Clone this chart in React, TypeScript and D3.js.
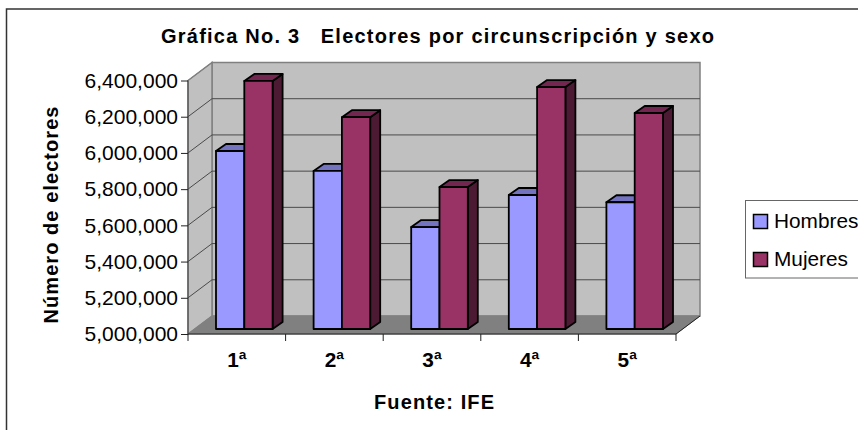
import * as d3 from 'd3';
import {useEffect,useRef} from "react";

const categories = ["1ª","2ª","3ª","4ª","5ª"];
const seriesNames = ["Hombres","Mujeres"];
const hombres = [5983000,5873000,5563000,5740000,5700000];
const mujeres = [6370000,6170000,5784000,6336000,6193000];
const yTicks = [5000000,5200000,5400000,5600000,5800000,6000000,6200000,6400000];

const colors = ["#9999ff","#993366"];
const topColors = ["#7373bf","#732650"];
const sideColors = ["#4d4d80","#4d1a33"];

const width = 858;
const height = 430;
const font = '"Liberation Sans", Arial, sans-serif';

// front plane of the 3d box, and how far back the walls go
const plot = {left: 188, right: 676, top: 80.5, bottom: 334};
const wall = {dx: 24, dy: -18};
const barDepth = {dx: 10, dy: -7};

export default function App(){
    const svgRef = useRef<SVGSVGElement>(null);

    useEffect(() => {
        const svg = d3.select(svgRef.current);
        svg.selectAll("*").remove();

        const x = d3.scaleBand().domain(categories).range([plot.left,plot.right]);
        const y = d3.scaleLinear().domain([5000000,6400000]).range([plot.bottom,plot.top]);
        const inner = d3.scaleBand().domain(seriesNames).range([28,84.6]);

        const poly = (pts: number[][]) => d3.line()(pts as [number,number][]) + "Z";

        // outer frame, open on the right and at the bottom as in the source
        svg.append("path")
            .attr("d", `M6.5,${height}V9H${width}`)
            .attr("fill","none").attr("stroke","#333").attr("stroke-width",1.5);

        // walls
        const {left:l,right:r,top:t,bottom:b} = plot;
        const {dx,dy} = wall;
        svg.append("path").attr("d",poly([[l+dx,t+dy],[r+dx,t+dy],[r+dx,b+dy],[l+dx,b+dy]]))
            .attr("fill","#c0c0c0").attr("stroke","#808080").attr("stroke-width",1.5);
        svg.append("path").attr("d",poly([[l,t],[l+dx,t+dy],[l+dx,b+dy],[l,b]]))
            .attr("fill","#c0c0c0").attr("stroke","#808080").attr("stroke-width",1.5);
        svg.append("path").attr("d",poly([[l,b],[l+dx,b+dy],[r+dx,b+dy],[r,b]]))
            .attr("fill","#808080").attr("stroke","#808080").attr("stroke-width",1);

        // gridlines run up the side wall then along the back
        yTicks.slice(1,-1).forEach(v => {
            svg.append("path")
                .attr("d",d3.line()([[l,y(v)],[l+dx,y(v)+dy],[r+dx,y(v)+dy]]))
                .attr("fill","none").attr("stroke","#4a4a4a").attr("stroke-width",1);
        });
        svg.append("path")
            .attr("d",d3.line()([[l,t],[l+dx,t+dy]]))
            .attr("stroke","#808080").attr("stroke-width",1);

        // axes
        const yAxis = svg.append("g")
            .attr("transform",`translate(${l},0)`)
            .call(d3.axisLeft(y).tickValues(yTicks).tickFormat(d3.format(",") as any).tickSize(7).tickPadding(3));
        yAxis.selectAll("text").attr("font-family",font).attr("font-size",21).attr("fill","#000");
        yAxis.selectAll("line").attr("stroke","#222").attr("stroke-width",1);
        yAxis.select(".domain").attr("stroke","#444").attr("d",`M0,${t}V${b}`);

        const xAxis = svg.append("g").attr("transform",`translate(0,${b})`);
        xAxis.append("path").attr("d",`M${l},0H${r}L${r+dx},${dy}`)
            .attr("fill","none").attr("stroke","#222").attr("stroke-width",1);
        [...categories.map(c => x(c)!),plot.right].forEach(px => {
            xAxis.append("line").attr("x1",px).attr("x2",px).attr("y1",0).attr("y2",7)
                .attr("stroke","#222").attr("stroke-width",1);
        });
        xAxis.selectAll(".cat").data(categories).enter().append("text")
            .attr("class","cat")
            .attr("x",d => x(d)! + x.bandwidth()/2)
            .attr("y",33)
            .attr("text-anchor","middle")
            .attr("font-family",font).attr("font-weight","bold").attr("font-size",20.8)
            .text(d => d);

        // bars
        const baseY = -5;
        const bars = seriesNames.flatMap((s,si) =>
            categories.map((c,ci) => ({s,si,c,v:(si===0?hombres:mujeres)[ci]}))
        ).sort((a,b2) => d3.ascending(categories.indexOf(a.c),categories.indexOf(b2.c)) || a.si-b2.si);

        const bar = svg.selectAll(".bar").data(bars).enter().append("g").classed("bar",true)
            .attr("stroke","#000").attr("stroke-width",1.8).attr("stroke-linejoin","round");
        const x0 = (d: any) => x(d.c)! + inner(d.s)!;
        const x1 = (d: any) => x0(d) + inner.bandwidth();
        const yTop = (d: any) => y(d.v) + baseY;
        const yBase = y(5000000) + baseY;

        bar.append("path")
            .attr("d",d => poly([[x1(d),yTop(d)],[x1(d)+barDepth.dx,yTop(d)+barDepth.dy],[x1(d)+barDepth.dx,yBase+barDepth.dy],[x1(d),yBase]]))
            .attr("fill",d => sideColors[d.si]);
        bar.append("path")
            .attr("d",d => poly([[x0(d),yTop(d)],[x0(d)+barDepth.dx,yTop(d)+barDepth.dy],[x1(d)+barDepth.dx,yTop(d)+barDepth.dy],[x1(d),yTop(d)]]))
            .attr("fill",d => topColors[d.si]);
        bar.append("rect")
            .attr("x",x0).attr("y",yTop)
            .attr("width",inner.bandwidth())
            .attr("height",d => yBase - yTop(d))
            .attr("fill",d => colors[d.si]);

        // titles
        const label = (txt: string, px: number, py: number, len: number, rotate = false) => {
            svg.append("text")
                .attr("transform",`translate(${px},${py})${rotate ? " rotate(-90)" : ""}`)
                .attr("text-anchor","middle")
                .attr("font-family",font).attr("font-weight","bold").attr("font-size",20)
                .attr("textLength",len).attr("lengthAdjust","spacing")
                .text(txt);
        };
        label("Gráfica No. 3\u00a0\u00a0\u00a0Electores por circunscripción y sexo",437.5,42.5,553);
        label("Número de electores",58,215,217,true);
        label("Fuente: IFE",434,409,120);

        // legend, runs off the right edge like the source
        svg.append("rect").attr("x",745.5).attr("y",200.5).attr("width",130).attr("height",77.5)
            .attr("fill","#fff").attr("stroke","#666").attr("stroke-width",1);
        const legendY = d3.scalePoint().domain(seriesNames).range([221.5,259.5]);
        seriesNames.forEach((s,i) => {
            svg.append("rect").attr("x",753.5).attr("y",legendY(s)!-7).attr("width",14).attr("height",14)
                .attr("fill",colors[i]).attr("stroke","#000").attr("stroke-width",1.5);
            svg.append("text").attr("x",774).attr("y",legendY(s)!+6)
                .attr("font-family",font).attr("font-size",20.8).text(s);
        });

        return () => {};
    },[]);

    return <svg ref={svgRef} width={width} height={height} viewBox={`0 0 ${width} ${height}`}
        style={{position:"absolute",left:0,top:0,background:"#fff"}}></svg>;
}
